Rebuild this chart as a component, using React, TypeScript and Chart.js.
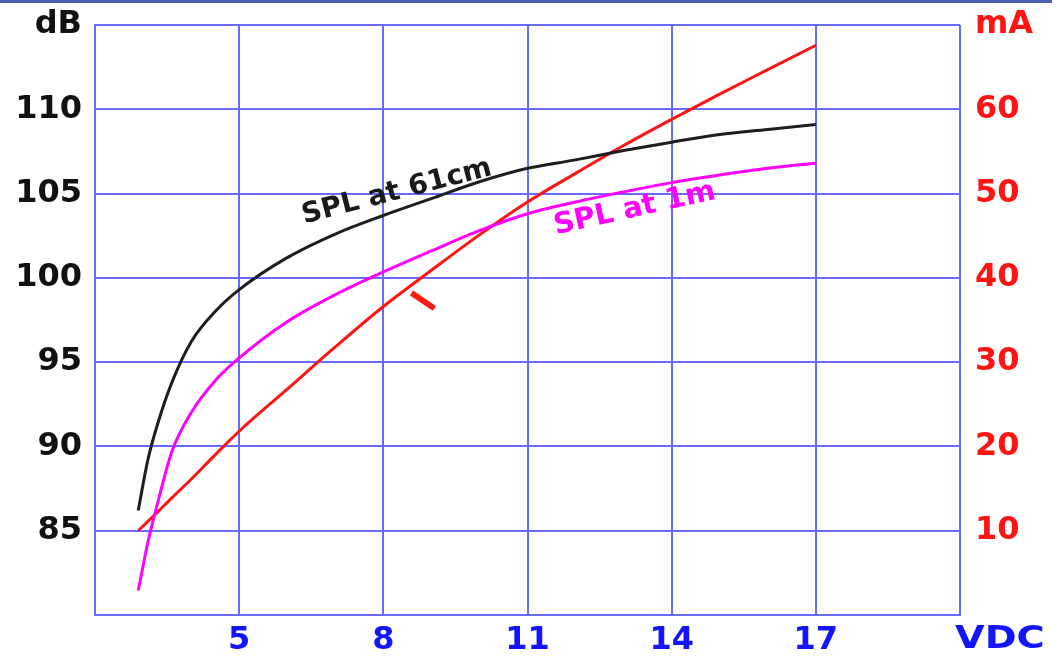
import React, { useEffect, useRef } from 'react';
import { Chart, registerables } from 'chart.js';

Chart.register(...registerables);

// Supply voltage (VDC) sample points
const volts = [2.9, 3.1, 3.3, 3.6, 4, 4.5, 5, 6, 7, 8, 9, 10, 11, 12, 13, 14, 15, 16, 17];
// SPL at 61cm (dB)
const spl61cm = [86.2, 89.2, 91.3, 93.8, 96.2, 98.0, 99.3, 101.2, 102.6, 103.7, 104.7, 105.7, 106.5, 107.0, 107.55, 108.05, 108.5, 108.8, 109.1];
// SPL at 1m (dB)
const spl1m = [81.45, 84.3, 86.6, 89.7, 92.0, 93.9, 95.25, 97.4, 99.0, 100.35, 101.6, 102.8, 103.8, 104.5, 105.1, 105.65, 106.1, 106.5, 106.8];
// Current I (mA)
const currentMa = [10, 11.1, 12.2, 13.9, 16.1, 19.0, 21.8, 26.8, 31.8, 36.6, 40.9, 45.1, 49.0, 52.4, 55.7, 58.8, 61.8, 64.7, 67.6];

// Axis ranges / steps
const xRange = [2, 20];
const xStep = 3;
const dbRange = [80, 115];
const dbStep = 5;
const maRange = [0, 70];
const maStep = 10;

// Unit labels shown in place of the outermost ticks
const xUnit = 'VDC';
const dbUnit = 'dB';
const maUnit = 'mA';

// Curve labels (text, x in VDC, y in axis units, axis id)
const labelTexts = ['SPL at 61cm', 'SPL at 1m', 'I'];
const labelX = [8.28, 13.23, 8.87];
const labelY = [105.09, 104.08, 37.1];
const labelAxis = ['y', 'y', 'y1'];

const GRID = '#6a6aff';
const TICK_FONT = { family: 'DejaVu Sans', size: 32, weight: 'bold' as const };

export default function App() {
  const ref = useRef<HTMLCanvasElement | null>(null);

  useEffect(() => {
    document.body.style.margin = '0';
    const canvas = ref.current;
    if (!canvas) return;

    const labelStyles = [
      { color: '#1a1a1a', angle: -14.5, font: 'bold 28px "DejaVu Sans"' },
      { color: '#ff00ff', angle: -12.5, font: 'bold 29px "DejaVu Sans"' },
      { color: '#ff1a1a', angle: -56, font: 'bold 40px "Liberation Sans"' },
    ];

    const decoPlugin = {
      id: 'deco',
      beforeDraw(chart: any) {
        const ctx = chart.ctx;
        ctx.save();
        ctx.fillStyle = '#4a63b0';
        ctx.fillRect(0, 0, 1052, 3);
        ctx.restore();
      },
      afterDatasetsDraw(chart: any) {
        const { ctx, scales } = chart;
        labelTexts.forEach((t, i) => {
          const st = labelStyles[i];
          const px = scales.x.getPixelForValue(labelX[i]);
          const py = scales[labelAxis[i]].getPixelForValue(labelY[i]);
          ctx.save();
          ctx.translate(px, py);
          ctx.rotate((st.angle * Math.PI) / 180);
          ctx.font = st.font;
          ctx.fillStyle = st.color;
          ctx.textAlign = 'center';
          ctx.textBaseline = 'middle';
          ctx.fillText(t, 0, 0);
          ctx.restore();
        });
        // x unit label to the right of the last grid line
        const ux = scales.x.getPixelForValue(xRange[1]) - 5;
        const uy = scales.x.bottom - 20;
        ctx.save();
        ctx.translate(ux, uy);
        ctx.scale(1.2, 1);
        ctx.font = 'bold 32px "DejaVu Sans"';
        ctx.fillStyle = '#1414ff';
        ctx.textAlign = 'left';
        ctx.textBaseline = 'middle';
        ctx.fillText(xUnit, 0, 0);
        ctx.restore();
      },
    };

    const pts = (ys: number[]) => volts.map((v, i) => ({ x: v, y: ys[i] }));

    const chart = new Chart(canvas, {
      type: 'line',
      data: {
        datasets: [
          {
            label: 'SPL at 61cm',
            data: pts(spl61cm),
            borderColor: '#1e1e1e',
            borderWidth: 3,
            pointRadius: 0,
            cubicInterpolationMode: 'monotone',
            yAxisID: 'y',
          },
          {
            label: 'SPL at 1m',
            data: pts(spl1m),
            borderColor: '#ff00ff',
            borderWidth: 3,
            pointRadius: 0,
            cubicInterpolationMode: 'monotone',
            yAxisID: 'y',
          },
          {
            label: 'I',
            data: pts(currentMa),
            borderColor: '#ff1414',
            borderWidth: 3,
            pointRadius: 0,
            cubicInterpolationMode: 'monotone',
            yAxisID: 'y1',
          },
        ],
      },
      options: {
        responsive: false,
        animation: false,
        layout: { padding: { top: 25, left: 0, right: 0, bottom: 0 } },
        plugins: {
          legend: { display: false },
          tooltip: { enabled: false },
          title: { display: false },
        },
        scales: {
          x: {
            type: 'linear',
            position: 'bottom',
            min: xRange[0],
            max: xRange[1],
            grid: { color: GRID, lineWidth: 2, drawTicks: false },
            border: { display: true, color: GRID, width: 2 },
            ticks: {
              stepSize: xStep,
              font: TICK_FONT,
              color: '#1414ff',
              padding: 6,
              maxRotation: 0,
              autoSkip: false,
              callback: (v: any) => (v === xRange[0] || v === xRange[1] ? '' : String(v)),
            },
            afterFit: (s: any) => {
              s.height = 45;
              s.paddingLeft = 0;
              s.paddingRight = 0;
            },
          },
          y: {
            type: 'linear',
            position: 'left',
            min: dbRange[0],
            max: dbRange[1],
            grid: { color: GRID, lineWidth: 2, drawTicks: false },
            border: { display: true, color: GRID, width: 2 },
            ticks: {
              stepSize: dbStep,
              font: TICK_FONT,
              color: '#111111',
              padding: 13,
              callback: (v: any) => (v === dbRange[1] ? dbUnit : v === dbRange[0] ? '' : String(v)),
            },
            afterFit: (s: any) => {
              s.width = 95;
              s.paddingTop = 0;
              s.paddingBottom = 0;
            },
          },
          y1: {
            type: 'linear',
            position: 'right',
            min: maRange[0],
            max: maRange[1],
            grid: { display: false, drawTicks: false },
            border: { display: false },
            ticks: {
              stepSize: maStep,
              font: TICK_FONT,
              color: '#ff1414',
              padding: 15,
              callback: (v: any) => (v === maRange[1] ? maUnit : v === maRange[0] ? '' : String(v)),
            },
            afterFit: (s: any) => {
              s.width = 99;
              s.paddingTop = 0;
              s.paddingBottom = 0;
            },
          },
        },
      },
      plugins: [decoPlugin],
    } as any);

    return () => {
      chart.destroy();
    };
  }, []);

  return (
    <div style={{ width: 1059, height: 660, background: '#ffffff' }}>
      <canvas ref={ref} width={1059} height={660} style={{ display: 'block' }} />
    </div>
  );
}
